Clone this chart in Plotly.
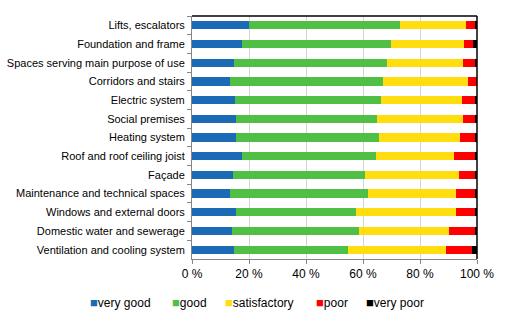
import plotly.graph_objects as go

categories = [
    "Lifts, escalators",
    "Foundation and frame",
    "Spaces serving main purpose of use",
    "Corridors and stairs",
    "Electric system",
    "Social premises",
    "Heating system",
    "Roof and roof ceiling joist",
    "Façade",
    "Maintenance and technical spaces",
    "Windows and external doors",
    "Domestic water and sewerage",
    "Ventilation and cooling system",
]

very_good = [20.1, 17.6, 14.8, 13.4, 15.2, 15.5, 15.5, 17.6, 14.5, 13.4, 15.5, 14.1, 14.8]
good = [52.8, 52.2, 53.6, 53.6, 51.1, 49.4, 50.1, 46.9, 46.2, 48.3, 42.0, 44.5, 39.9]
satisfactory = [23.1, 25.6, 26.6, 29.8, 28.4, 30.1, 28.4, 27.4, 32.9, 30.9, 35.1, 31.5, 34.4]
poor = [3.2, 3.1, 4.6, 3.2, 4.9, 4.6, 5.6, 7.3, 5.6, 6.6, 6.6, 9.1, 9.1]
very_poor = [0.8, 1.5, 0.4, 0.0, 0.4, 0.4, 0.4, 0.8, 0.8, 0.8, 0.8, 0.8, 1.8]

series_names = ["very good", "good", "satisfactory", "poor", "very poor"]
series_values = [very_good, good, satisfactory, poor, very_poor]
colors = ["#1B6AB5", "#4FBF45", "#FFDD0F", "#FF0000", "#000000"]

x_ticks = [0, 20, 40, 60, 80, 100]

FONT = "Liberation Sans, Arial, sans-serif"

fig = go.Figure()
for name, vals, col in zip(series_names, series_values, colors):
    fig.add_trace(go.Bar(
        y=categories, x=vals, name=name, orientation="h",
        marker=dict(color=col, line=dict(width=0)),
        width=0.44, showlegend=False,
    ))

fig.update_layout(
    barmode="stack",
    width=512, height=323,
    margin=dict(l=192, r=35, t=16, b=64, autoexpand=False),
    paper_bgcolor="white", plot_bgcolor="white",
    font=dict(family=FONT, size=11, color="#000000"),
)

fig.update_xaxes(
    range=[0, 100], tickvals=x_ticks, ticktext=[f"{v} %" for v in x_ticks],
    showgrid=True, gridcolor="#D4D4D4", gridwidth=1,
    showline=True, linecolor="#868686", linewidth=1,
    ticks="outside", ticklen=4, tickcolor="#868686",
    tickfont=dict(size=12), zeroline=False, automargin=False,
)
fig.update_yaxes(
    categoryorder="array", categoryarray=categories, autorange="reversed",
    showline=True, linecolor="#868686", linewidth=1,
    ticks="outside", ticklen=4, tickcolor="#868686", tickson="boundaries",
    showgrid=False, ticklabelstandoff=4, automargin=False,
    tickfont=dict(size=11),
)

# black top and right frame lines
fig.add_shape(type="line", xref="paper", yref="paper", x0=0, x1=1, y0=1, y1=1,
              line=dict(color="black", width=1.5))
fig.add_shape(type="line", xref="paper", yref="paper", x0=1, x1=1, y0=0, y1=1,
              line=dict(color="black", width=1.5))

# legend drawn as text annotations
legend_x = [-0.364, -0.077, 0.1085, 0.427, 0.602]
for name, col, lx in zip(series_names, colors, legend_x):
    fig.add_annotation(
        xref="paper", yref="paper", x=lx, y=-0.181, xanchor="left", yanchor="middle",
        showarrow=False,
        text=f"<span style='color:{col};font-size:13px'>■</span>{name}",
        font=dict(family=FONT, size=12, color="#000000"),
    )

fig.write_html("out.html")
